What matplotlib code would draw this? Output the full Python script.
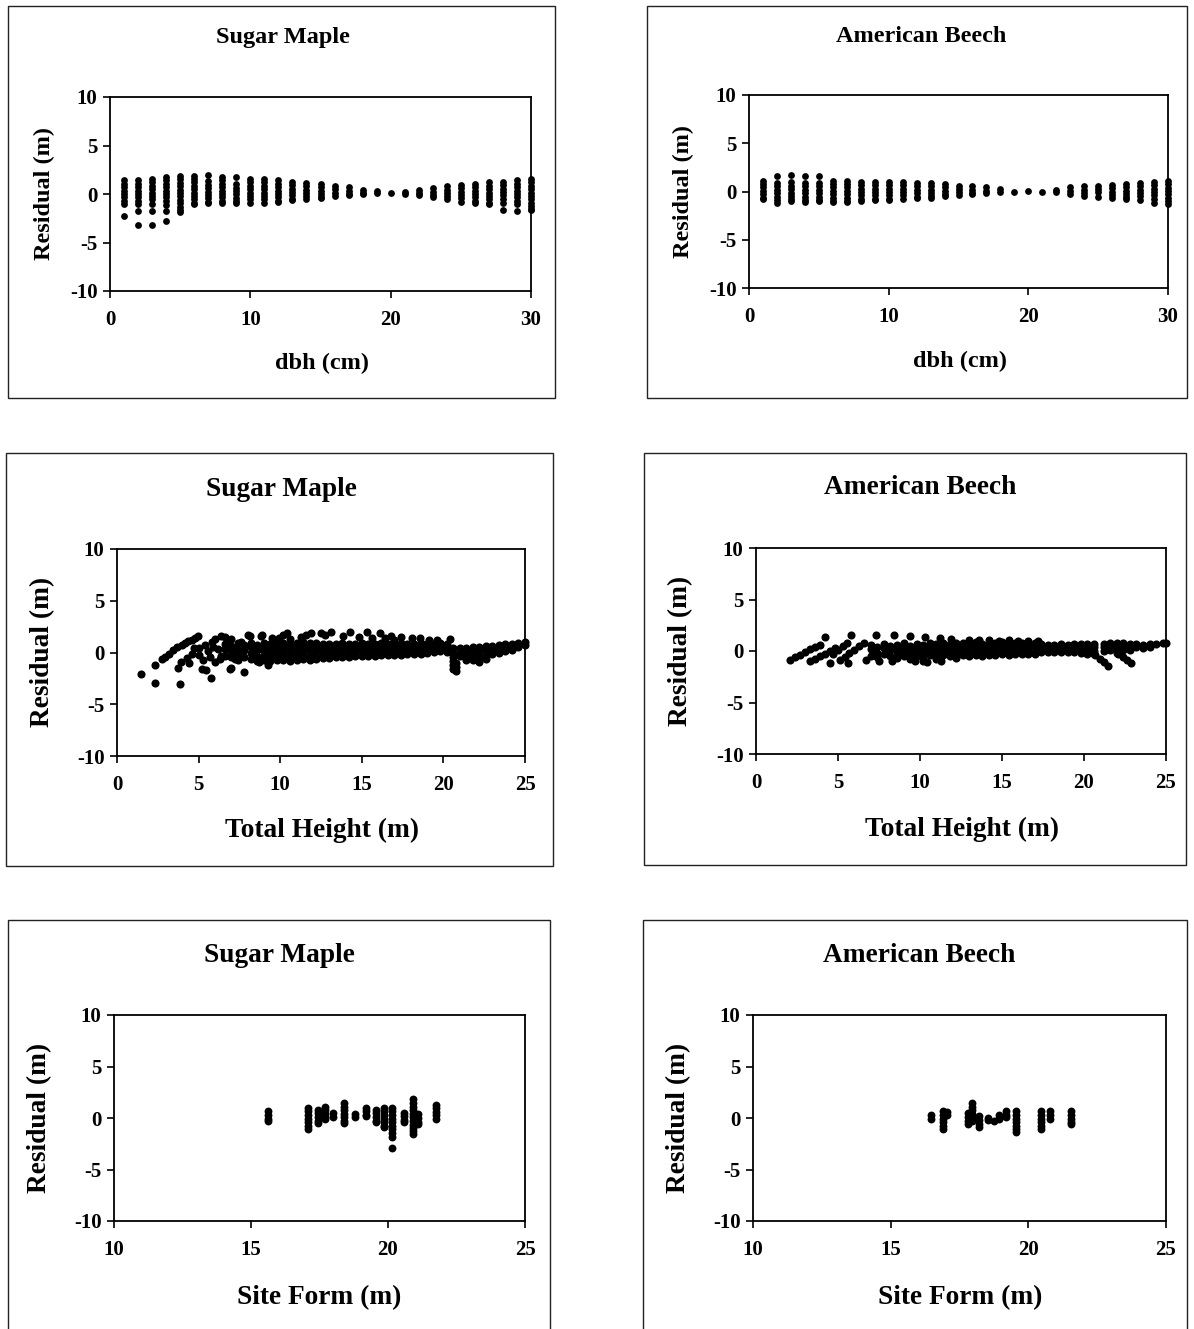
import matplotlib
matplotlib.use('Agg')
import matplotlib.pyplot as plt
from matplotlib.patches import Rectangle

plt.rcParams['font.family'] = ['Liberation Serif', 'DejaVu Serif']
plt.rcParams['font.weight'] = 'bold'
plt.rcParams['axes.unicode_minus'] = False

W, H = 1194, 1329

# ---- 数据：dbh 残差 ----
DBH = list(range(1, 31))

SM_DBH_RESID = [
    [1.4, 1.05, 0.7, 0.35, 0.0, -0.35, -0.7, -1.05, -2.25],
    [1.4, 1.05, 0.7, 0.35, 0.0, -0.35, -0.7, -1.0, -1.8, -3.2],
    [1.55, 1.2, 0.85, 0.5, 0.15, -0.2, -0.55, -1.0, -1.8, -3.2],
    [1.75, 1.4, 1.05, 0.7, 0.35, 0.0, -0.35, -0.7, -1.1, -1.75, -2.75],
    [1.85, 1.5, 1.15, 0.8, 0.45, 0.1, -0.25, -0.6, -0.95, -1.3, -1.6, -1.9],
    [1.9, 1.55, 1.2, 0.85, 0.5, 0.15, -0.2, -0.55, -0.9, -1.05],
    [2.0, 1.3, 0.95, 0.6, 0.25, -0.1, -0.45, -0.8, -0.9],
    [1.75, 1.4, 1.05, 0.7, 0.35, 0.0, -0.35, -0.7, -0.9],
    [1.8, 1.0, 0.65, 0.3, -0.05, -0.4, -0.75, -0.9],
    [1.55, 1.2, 0.85, 0.5, 0.15, -0.2, -0.55, -0.9],
    [1.55, 1.2, 0.85, 0.5, 0.15, -0.2, -0.55, -0.9],
    [1.4, 1.05, 0.7, 0.35, 0.0, -0.35, -0.7, -0.85],
    [1.25, 0.9, 0.55, 0.2, -0.15, -0.5, -0.65],
    [1.15, 0.8, 0.45, 0.1, -0.25, -0.55],
    [1.05, 0.7, 0.35, 0.0, -0.3, -0.45],
    [0.85, 0.5, 0.15, -0.2],
    [0.7, 0.35, 0.0, -0.1],
    [0.4, 0.1, 0.0],
    [0.3, 0.1],
    [0.15],
    [0.25, -0.05],
    [0.4, 0.1, -0.1],
    [0.6, 0.25, -0.1, -0.3],
    [0.8, 0.45, 0.1, -0.25, -0.55],
    [0.95, 0.6, 0.25, -0.1, -0.45, -0.85],
    [1.05, 0.7, 0.35, 0.0, -0.35, -0.7, -0.95],
    [1.2, 0.85, 0.5, 0.15, -0.2, -0.55, -0.9, -1.05],
    [1.25, 0.9, 0.55, 0.2, -0.15, -0.5, -0.9, -1.6],
    [1.4, 1.05, 0.7, 0.35, 0.0, -0.35, -0.7, -1.05, -1.72],
    [1.55, 1.2, 0.85, 0.5, 0.15, -0.2, -0.55, -0.9, -1.25, -1.5, -1.7],
]

AB_DBH_RESID = [
    [1.12, 0.77, 0.42, 0.07, -0.28, -0.63, -0.8],
    [1.61, 0.87, 0.52, 0.17, -0.18, -0.53, -0.88, -1.15],
    [1.71, 0.94, 0.59, 0.24, -0.11, -0.46, -0.81, -1.0],
    [1.61, 0.87, 0.52, 0.17, -0.18, -0.53, -0.88, -1.05],
    [1.61, 0.87, 0.52, 0.17, -0.18, -0.53, -0.85, -1.0],
    [1.12, 0.77, 0.42, 0.07, -0.28, -0.63, -0.98, -1.05],
    [1.12, 0.77, 0.42, 0.07, -0.28, -0.63, -0.98, -1.05],
    [1.0, 0.65, 0.3, -0.05, -0.4, -0.75, -1.0],
    [1.0, 0.65, 0.3, -0.05, -0.4, -0.75, -0.9],
    [1.0, 0.65, 0.3, -0.05, -0.4, -0.75, -0.9],
    [1.0, 0.65, 0.3, -0.05, -0.4, -0.8],
    [0.87, 0.52, 0.17, -0.18, -0.53, -0.7],
    [0.87, 0.52, 0.17, -0.18, -0.5, -0.63],
    [0.77, 0.42, 0.07, -0.28, -0.46],
    [0.6, 0.25, -0.1, -0.4],
    [0.53, 0.18, -0.17, -0.3],
    [0.42, 0.1, -0.11],
    [0.3, 0.0],
    [0.0],
    [0.09],
    [-0.02],
    [0.2, 0.0],
    [0.45, 0.1, -0.3],
    [0.55, 0.2, -0.15, -0.46],
    [0.6, 0.25, -0.1, -0.55],
    [0.7, 0.35, 0.0, -0.35, -0.65],
    [0.8, 0.45, 0.1, -0.25, -0.6, -0.8],
    [0.9, 0.55, 0.2, -0.15, -0.5, -0.9],
    [1.0, 0.65, 0.3, -0.05, -0.4, -0.75, -1.15],
    [1.1, 0.75, 0.4, 0.05, -0.3, -0.65, -1.0, -1.3],
]

# ---- 数据：树高残差（散点 + 密集带，按列）----
SM_HT_POINTS = [
    (1.47, -2.08), (2.3, -1.2), (2.33, -2.98), (2.74, -0.63), (2.94, -0.4),
    (3.2, -0.1), (3.45, 0.24), (3.7, 0.5), (3.96, 0.72), (4.17, 0.9),
    (4.37, 1.1), (4.58, 1.25), (4.78, 1.42), (4.95, 1.55), (3.76, -1.53),
    (3.86, -3.04), (3.9, -0.9), (4.27, -0.56), (4.4, -1.0), (4.6, -0.1),
    (4.7, 0.4), (5.0, 0.4), (5.0, -0.2), (5.3, -0.73), (5.23, -1.6),
    (5.45, -1.65), (5.75, -2.46), (5.4, 0.7), (5.8, 1.05), (5.9, 0.55),
    (5.6, 0.1), (5.7, -0.4), (6.2, 0.3), (6.3, -0.6),
    (6.03, 1.26), (6.38, 1.59), (6.6, 1.5), (6.96, 1.26), (6.8, 1.15),
    (6.0, -0.9), (6.4, -0.3), (6.9, -1.55), (7.2, 0.1), (7.2, -0.6),
    (6.96, -1.49), (7.77, -1.9), (7.6, 1.05), (8.0, 1.65), (8.12, 1.59),
    (8.4, 0.6), (8.7, -0.9), (8.82, 1.59), (8.9, 1.7), (9.28, -1.17),
    (9.4, 0.3), (9.5, 1.4), (9.9, 1.4), (10.2, 1.65), (10.4, 1.85),
    (10.6, 1.3), (11.3, 1.45), (11.6, 1.65), (11.9, 1.9), (12.5, 1.9),
    (12.75, 1.69), (13.1, 1.94), (13.87, 1.6), (14.3, 1.94), (14.8, 1.53),
    (15.3, 2.0), (15.6, 1.43), (16.1, 1.85), (16.4, 1.37), (16.8, 1.6),
    (17.0, 1.2), (17.4, 1.53), (18.05, 1.37), (18.56, 1.37), (19.1, 1.2),
    (19.6, 1.25), (20.4, 1.3),
]

SM_HT_BAND = [
    (6.6, [0.8, 0.3, -0.3]), (7.0, [0.6, 0.1, -0.4]),
    (7.4, [0.9, 0.4, -0.1, -0.7]), (7.8, [0.7, 0.2, -0.4]),
    (8.2, [0.9, 0.5, 0.0, -0.6]), (8.6, [0.7, 0.2, -0.3, -0.8]),
    (9.0, [0.9, 0.5, 0.1, -0.3, -0.7]), (9.4, [0.8, 0.4, 0.0, -0.4, -0.8]),
    (9.8, [0.9, 0.5, 0.1, -0.3, -0.7]), (10.2, [0.9, 0.5, 0.1, -0.3, -0.75]),
    (10.6, [0.8, 0.4, 0.0, -0.4, -0.8]), (11.0, [0.9, 0.5, 0.1, -0.3, -0.7]),
    (11.4, [1.0, 0.6, 0.2, -0.2, -0.6]), (11.8, [0.9, 0.5, 0.1, -0.3, -0.7]),
    (12.2, [0.9, 0.5, 0.1, -0.3, -0.65]), (12.6, [0.85, 0.45, 0.05, -0.35, -0.5]),
    (13.0, [0.85, 0.45, 0.05, -0.35, -0.5]), (13.4, [0.85, 0.45, 0.05, -0.3, -0.45]),
    (13.8, [0.9, 0.5, 0.1, -0.3, -0.45]), (14.2, [0.85, 0.45, 0.05, -0.35, -0.4]),
    (14.6, [0.85, 0.45, 0.05, -0.35]), (15.0, [0.9, 0.5, 0.1, -0.3]),
    (15.4, [0.85, 0.45, 0.05, -0.3]), (15.8, [0.85, 0.45, 0.05, -0.3]),
    (16.2, [0.9, 0.5, 0.1, -0.25]), (16.6, [0.85, 0.45, 0.05, -0.25]),
    (17.0, [0.85, 0.45, 0.05, -0.2]), (17.4, [0.9, 0.5, 0.1, -0.2]),
    (17.8, [0.85, 0.45, 0.05, -0.15]), (18.2, [0.85, 0.45, 0.05, -0.15]),
    (18.6, [0.9, 0.5, 0.1, -0.1]), (19.0, [0.85, 0.45, 0.05, -0.05]),
    (19.4, [0.85, 0.45, 0.05]), (19.8, [0.9, 0.5, 0.1]),
    (20.2, [0.85, 0.45, 0.05]), (20.6, [0.4, 0.0, -0.4, -0.8, -1.2, -1.55]),
    (20.75, [-1.0, -1.4, -1.75]), (21.0, [0.4, 0.0, -0.35]),
    (21.4, [0.45, 0.05, -0.35, -0.7]), (21.8, [0.5, 0.1, -0.3, -0.7]),
    (22.2, [0.5, 0.1, -0.3, -0.7, -0.95]), (22.6, [0.6, 0.2, -0.2, -0.6]),
    (23.0, [0.65, 0.25, -0.15]), (23.4, [0.75, 0.35, 0.0]),
    (23.8, [0.8, 0.4, 0.1]), (24.2, [0.85, 0.5, 0.2]),
    (24.6, [0.9, 0.55]), (25.0, [1.0, 0.7]),
]

AB_HT_POINTS = [
    (2.1, -0.85), (2.4, -0.6), (2.7, -0.35), (3.0, -0.1), (3.3, 0.15),
    (3.6, 0.4), (3.9, 0.6), (4.2, 1.35),
    (3.3, -1.0), (3.6, -0.75), (3.9, -0.5), (4.2, -0.25), (4.5, 0.0),
    (4.8, 0.3), (4.5, -1.2),
    (4.7, -0.3), (5.0, 0.1), (5.3, 0.5), (5.55, 0.8), (5.8, 1.55),
    (5.1, -0.85), (5.4, -0.55), (5.7, -0.2), (6.0, 0.1), (6.3, 0.45),
    (6.6, 0.8), (5.6, -1.2),
    (7.3, 1.55), (8.4, 1.55), (9.4, 1.45), (10.3, 1.4), (11.2, 1.23), (11.9, 1.13),
    (6.7, -0.9), (7.0, -0.5), (7.5, -1.0), (8.3, -1.0), (9.7, -1.0),
    (10.4, -1.05), (11.3, -0.95),
    (13.0, 1.1), (13.6, 1.05), (14.2, 1.1), (14.8, 1.0), (15.4, 1.05),
    (16.0, 1.0), (16.6, 0.95), (17.2, 0.95),
    (20.7, -0.4), (20.95, -0.75), (21.2, -1.1), (21.45, -1.45),
    (22.1, -0.25), (22.35, -0.6), (22.6, -0.9), (22.85, -1.2),
]

AB_HT_BAND = [
    (7.0, [0.6, 0.2]), (7.4, [0.4, -0.2, -0.6]), (7.8, [0.7, 0.3, -0.3]),
    (8.2, [0.5, 0.1, -0.5]), (8.6, [0.6, 0.2, -0.2, -0.7]),
    (9.0, [0.8, 0.3, -0.1, -0.5]), (9.4, [0.5, 0.1, -0.3, -0.8]),
    (9.8, [0.7, 0.3, -0.1, -0.5]), (10.2, [0.6, 0.2, -0.2, -0.6, -0.95]),
    (10.6, [0.8, 0.4, 0.0, -0.4]), (11.0, [0.7, 0.3, -0.1, -0.5, -0.8]),
    (11.4, [0.8, 0.4, 0.0, -0.4]), (11.8, [0.7, 0.3, -0.1, -0.5]),
    (12.2, [0.8, 0.4, 0.0, -0.4, -0.7]), (12.6, [0.8, 0.4, 0.0, -0.4]),
    (13.0, [0.75, 0.35, -0.05, -0.45]), (13.4, [0.85, 0.45, 0.05, -0.35]),
    (13.8, [0.7, 0.3, -0.1, -0.45]), (14.2, [0.8, 0.4, 0.0, -0.35]),
    (14.6, [0.75, 0.35, -0.05, -0.4]), (15.0, [0.85, 0.45, 0.05, -0.3]),
    (15.4, [0.7, 0.3, -0.1, -0.35]), (15.8, [0.75, 0.35, -0.05, -0.3]),
    (16.2, [0.8, 0.4, 0.0, -0.3]), (16.6, [0.7, 0.3, -0.1, -0.3]),
    (17.0, [0.75, 0.35, -0.05, -0.25]), (17.4, [0.7, 0.3, -0.1]),
    (17.8, [0.6, 0.25, -0.1]), (18.2, [0.6, 0.25, -0.1]),
    (18.6, [0.65, 0.3, -0.05]), (19.0, [0.6, 0.25, -0.1]),
    (19.4, [0.65, 0.3, -0.05]), (19.8, [0.7, 0.35, 0.0, -0.2]),
    (20.2, [0.7, 0.35, 0.0, -0.25]), (20.6, [0.7, 0.35, 0.0, -0.3]),
    (21.2, [0.7, 0.35, 0.0]), (21.6, [0.75, 0.4, 0.05]),
    (22.0, [0.75, 0.4, 0.05, -0.2]), (22.4, [0.8, 0.45, 0.1]),
    (22.8, [0.7, 0.4, 0.1]), (23.2, [0.65, 0.35]), (23.6, [0.6, 0.3]),
    (24.0, [0.65, 0.4]), (24.4, [0.7]), (24.8, [0.75]), (25.0, [0.8]),
]

# ---- 数据：立地形 (Site Form) 残差，按列 ----
SM_SF_COLS = [
    (15.63, [0.65, 0.3, -0.05, -0.25]),
    (17.09, [1.0, 0.65, 0.3, -0.05, -0.4, -0.75, -1.05]),
    (17.46, [0.8, 0.45, 0.1, -0.25, -0.5]),
    (17.7, [1.1, 0.75, 0.4, 0.05, -0.1]),
    (18.0, [0.45, 0.1]),
    (18.4, [1.45, 1.1, 0.75, 0.4, 0.05, -0.3, -0.5]),
    (18.8, [0.35, 0.05]),
    (19.2, [1.0, 0.65, 0.3, 0.15]),
    (19.55, [0.8, 0.45, 0.1, -0.25, -0.4]),
    (19.85, [1.0, 0.65, 0.3, -0.05, -0.4, -0.75, -0.9]),
    (20.16, [1.0, 0.65, 0.3, -0.05, -0.4, -0.75, -1.1, -1.45, -1.8, -2.95]),
    (20.6, [0.5, 0.15, -0.2, -0.4]),
    (20.9, [1.8, 1.45, 1.1, 0.75, 0.4, 0.05, -0.3, -0.65, -1.0, -1.3, -1.55]),
    (21.1, [0.35, 0.0, -0.35, -0.55]),
    (21.75, [1.3, 0.95, 0.6, 0.25, -0.1]),
]

AB_SF_COLS = [
    (16.45, [0.3, -0.05]),
    (16.9, [0.65, 0.3, -0.05, -0.4, -0.75, -1.05]),
    (17.05, [0.6, 0.3]),
    (17.8, [0.45, 0.1, -0.25, -0.55]),
    (17.97, [1.45, 1.1, 0.75, 0.4, 0.05, -0.25]),
    (18.2, [0.15, -0.2, -0.55, -0.9]),
    (18.55, [0.0, -0.2]),
    (18.75, [-0.25]),
    (18.95, [0.3, 0.0, -0.1]),
    (19.2, [0.65, 0.3, 0.1]),
    (19.57, [0.65, 0.3, -0.05, -0.4, -0.75, -1.1, -1.35]),
    (20.46, [0.65, 0.3, -0.05, -0.4, -0.75, -1.05]),
    (20.8, [0.65, 0.3, -0.05]),
    (21.55, [0.65, 0.3, -0.05, -0.4, -0.55]),
]

Y_TICKS = [-10, -5, 0, 5, 10]


def expand_cols(cols):
    """把 (x, [y...]) 列展开为 x, y 两个列表"""
    xs, ys = [], []
    for x, vals in cols:
        for v in vals:
            xs.append(x)
            ys.append(v)
    return xs, ys


def fx(px):
    return px / W


def fy(py):
    return 1 - py / H


fig = plt.figure(figsize=(W / 100, H / 100), dpi=100)


def panel(ax_px, frame_px, xlim, xticks, title, title_c, xlabel, xlabel_c,
          ylabel_c, fs_big, fs_tick=15):
    x0, y0, x1, y1 = frame_px
    fig.add_artist(Rectangle((fx(x0), fy(y1)), fx(x1 - x0), (y1 - y0) / H,
                             transform=fig.transFigure, fill=False,
                             edgecolor='#222222', lw=1.0))
    a0, b0, a1, b1 = ax_px
    ax = fig.add_axes([fx(a0), fy(b1), fx(a1 - a0), (b1 - b0) / H])
    ax.set_xlim(*xlim)
    ax.set_ylim(-10, 10)
    ax.set_xticks(xticks)
    ax.set_yticks(Y_TICKS)
    ax.set_yticklabels([str(t) for t in Y_TICKS])
    ax.tick_params(direction='out', length=5, width=1.2, labelsize=fs_tick)
    ax.tick_params(axis='x', pad=9)
    ax.tick_params(axis='y', pad=4)
    for lab in ax.get_xticklabels() + ax.get_yticklabels():
        lab.set_fontweight('bold')
    for sp in ax.spines.values():
        sp.set_linewidth(1.3)
    fig.text(fx(title_c[0]), fy(title_c[1]), title, ha='center', va='center',
             fontsize=fs_big, fontweight='bold')
    fig.text(fx(xlabel_c[0]), fy(xlabel_c[1]), xlabel, ha='center',
             va='center', fontsize=fs_big, fontweight='bold')
    fig.text(fx(ylabel_c[0]), fy(ylabel_c[1]), 'Residual (m)', ha='center',
             va='center', rotation=90, fontsize=fs_big, fontweight='bold')
    return ax


# 第一行：dbh
ax = panel((110, 97, 531, 291), (8, 6, 555, 398), (0, 30), [0, 10, 20, 30],
           'Sugar Maple', (283, 38), 'dbh (cm)', (322, 363), (44, 194), 17.5)
xs, ys = expand_cols(list(zip(DBH, SM_DBH_RESID)))
ax.scatter(xs, ys, s=24, c='black', linewidths=0, clip_on=False)

ax = panel((749, 95, 1168, 288), (647, 6, 1187, 398), (0, 30), [0, 10, 20, 30],
           'American Beech', (921, 36), 'dbh (cm)', (960, 361), (683, 191), 17.5)
xs, ys = expand_cols(list(zip(DBH, AB_DBH_RESID)))
ax.scatter(xs, ys, s=24, c='black', linewidths=0, clip_on=False)

# 第二行：树高
ax = panel((117, 549, 525, 756), (6, 453, 553, 866), (0, 25),
           [0, 5, 10, 15, 20, 25], 'Sugar Maple', (281, 489),
           'Total Height (m)', (322, 830), (43, 652), 19.7)
xs, ys = expand_cols(SM_HT_BAND)
px, py = zip(*SM_HT_POINTS)
ax.scatter(list(px) + xs, list(py) + ys, s=34, c='black', linewidths=0,
           clip_on=False)

ax = panel((756, 548, 1166, 754), (644, 453, 1186, 865), (0, 25),
           [0, 5, 10, 15, 20, 25], 'American Beech', (920, 487),
           'Total Height (m)', (962, 829), (681, 651), 19.7)
xs, ys = expand_cols(AB_HT_BAND)
px, py = zip(*AB_HT_POINTS)
ax.scatter(list(px) + xs, list(py) + ys, s=34, c='black', linewidths=0,
           clip_on=False)

# 第三行：Site Form
ax = panel((114, 1015, 525, 1221), (8, 920, 550, 1340), (10, 25),
           [10, 15, 20, 25], 'Sugar Maple', (279, 955), 'Site Form (m)',
           (319, 1298), (40, 1118), 19.7)
xs, ys = expand_cols(SM_SF_COLS)
ax.scatter(xs, ys, s=32, c='black', linewidths=0)

ax = panel((753, 1015, 1166, 1221), (643, 920, 1187, 1340), (10, 25),
           [10, 15, 20, 25], 'American Beech', (919, 955), 'Site Form (m)',
           (960, 1298), (679, 1118), 19.7)
xs, ys = expand_cols(AB_SF_COLS)
ax.scatter(xs, ys, s=32, c='black', linewidths=0)

fig.savefig('out.png', dpi=100)
